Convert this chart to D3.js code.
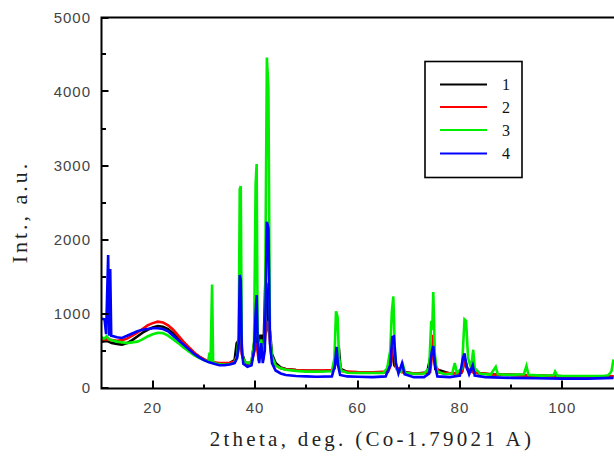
<!DOCTYPE html>
<html><head><meta charset="utf-8">
<script src="https://cdn.jsdelivr.net/npm/d3@7"></script>
<style>html,body{margin:0;padding:0;background:#fff;}svg{display:block;}</style>
</head><body>
<script>
const xTicks = [20, 40, 60, 80, 100];
const xMinorTicks = [30, 50, 70, 90];
const yTicks = [0, 1000, 2000, 3000, 4000, 5000];
const yMinorTicks = [500, 1500, 2500, 3500, 4500];
const seriesNames = ["1", "2", "3", "4"];
const seriesColors = ["#000000", "#ff0000", "#00ee00", "#0000ff"];

const s1 = [[10,620],[11,630],[12,600],[13,590],[14,580],[15,600],[16,640],[17,690],[18,740],[19,780],[20,810],[21,830],[22,820],[23,790],[24,730],[25,660],[26,590],[27,530],[28,470],[29,420],[30,380],[31,350],[32,330],[33,320],[34,320],[35,330],[36,370],[36.4,600],[36.8,640],[37.0,700],[37.2,740],[37.5,450],[38,350],[38.5,320],[39.3,340],[39.9,650],[40.2,700],[40.5,500],[41.0,700],[41.3,700],[41.6,400],[42.0,1430],[42.2,1400],[42.5,900],[42.9,760],[43.3,450],[44,330],[45,270],[46,250],[48,235],[50,225],[53,225],[55,230],[55.5,260],[55.7,350],[56.0,450],[56.4,500],[56.7,250],[58,210],[60,200],[64,200],[65.8,210],[66.3,420],[66.8,480],[67.2,300],[68.3,220],[71,190],[73.6,200],[74.2,400],[74.8,500],[75.2,250],[78,190],[80.3,200],[80.7,300],[81,380],[81.5,250],[83,200],[86,180],[90,170],[95,160],[100,150],[105,145],[110,150]];

const s2 = [[10,650],[11,650],[12,640],[13,630],[14,640],[15,660],[16,700],[17,740],[18,790],[19,840],[20,870],[21,890],[22,880],[23,840],[24,780],[25,700],[26,620],[27,550],[28,480],[29,420],[30,380],[31,350],[32,340],[33,330],[34,330],[35,330],[36,350],[36.6,450],[37.0,600],[37.2,700],[37.4,450],[37.8,360],[38.5,330],[39.3,340],[39.9,500],[40.3,600],[40.6,420],[41.2,520],[41.6,380],[42.0,700],[42.4,900],[42.8,700],[43.2,400],[44,300],[45,260],[46,245],[48,235],[50,230],[53,230],[55,235],[55.5,260],[55.7,350],[56.0,500],[56.3,300],[57,220],[60,210],[63,205],[66,215],[66.5,300],[66.8,500],[67.1,550],[67.5,280],[69,200],[72,190],[74.2,210],[74.5,400],[74.8,710],[75.2,300],[76,200],[80,190],[80.5,220],[80.9,380],[81.4,250],[82.4,210],[82.6,280],[83,200],[86,180],[90,170],[95,160],[100,150],[105,145],[110,150]];

const s3 = [[10,680],[10.5,660],[11,690],[11.5,650],[12,640],[13,620],[14,610],[15,600],[16,610],[17,620],[18,650],[19,690],[20,720],[21,740],[22,735],[23,700],[24,650],[25,600],[26,540],[27,490],[28,440],[29,400],[30,370],[30.8,350],[31.1,470],[31.3,350],[31.6,1390],[31.8,340],[32.5,320],[33.5,310],[34.5,310],[35.5,320],[36,340],[36.5,420],[36.8,700],[37.0,2680],[37.2,2720],[37.4,600],[37.6,400],[38,350],[38.6,330],[39.3,350],[39.8,600],[40.1,2740],[40.3,3020],[40.5,700],[40.8,430],[41.2,650],[41.5,430],[41.9,600],[42.3,4460],[42.6,4050],[42.9,700],[43.3,420],[44,300],[45,260],[46,240],[48,225],[50,215],[52,215],[55,220],[55.5,400],[55.8,1030],[56.1,960],[56.4,400],[56.8,230],[58,200],[60,195],[62,195],[65,195],[65.8,260],[66.4,500],[66.7,1020],[67.0,1230],[67.3,500],[67.6,250],[68.5,210],[68.9,300],[69.3,200],[71,185],[73,190],[74,260],[74.4,900],[74.6,780],[74.8,1290],[75.1,450],[75.5,220],[77,180],[78.5,190],[79,330],[79.4,200],[80.4,260],[80.9,920],[81.2,900],[81.6,400],[82.2,260],[82.6,510],[82.9,260],[84,185],[86,175],[87,280],[87.4,180],[90,170],[92.5,180],[93,290],[93.4,170],[96,160],[98.3,165],[98.6,215],[99,160],[100,155],[103,155],[106,155],[108,155],[109,165],[109.6,220],[110,380]];

const s4 = [[10,930],[10.6,920],[10.9,720],[11.3,1790],[11.5,700],[11.7,1600],[11.9,700],[12.5,690],[13,680],[14,670],[15,700],[16,730],[17,760],[18,780],[19,790],[20,800],[21,800],[22,790],[23,760],[24,700],[25,640],[26,580],[27,520],[28,460],[29,410],[30,370],[31,340],[32,320],[33,300],[34,300],[35,310],[36,330],[36.5,400],[36.8,600],[37.0,1520],[37.2,1450],[37.4,500],[37.7,320],[38.5,280],[39.3,300],[39.8,500],[40.1,1000],[40.3,1250],[40.5,600],[40.8,330],[41.2,600],[41.5,330],[41.9,500],[42.3,2240],[42.6,2150],[42.9,600],[43.3,330],[44,230],[45,190],[46,170],[48,155],[50,150],[52,145],[55,150],[55.6,300],[55.9,550],[56.2,300],[56.6,170],[58,150],[60,145],[63,140],[65.5,150],[66.4,300],[66.8,680],[67.1,690],[67.5,330],[68,190],[68.7,330],[69.2,180],[71,140],[73,140],[74,190],[74.5,480],[74.8,560],[75.2,280],[75.6,150],[78,140],[80,160],[80.6,400],[80.9,460],[81.3,280],[81.8,180],[82.5,300],[82.9,160],[85,140],[90,130],[95,125],[100,120],[105,120],[110,130]];

const allSeries = [s1, s2, s3, s4];

const W = 614, H = 456;
const mLeft = 101.5, mRight = 613.5, mTop = 17.5, mBottom = 387.5;
const svg = d3.select("body").append("svg").attr("width", W).attr("height", H);

const x = d3.scaleLinear().domain([10, 110]).range([mLeft, mRight]);
const y = d3.scaleLinear().domain([0, 5000]).range([mBottom, mTop]);

svg.append("clipPath").attr("id", "clip").append("rect")
  .attr("x", mLeft).attr("y", mTop).attr("width", mRight - mLeft + 2).attr("height", mBottom - mTop);

const line = d3.line().x(d => x(d[0])).y(d => y(d[1]));
const g = svg.append("g").attr("clip-path", "url(#clip)");
allSeries.forEach((s, i) => {
  g.append("path").datum(s).attr("d", line).attr("fill", "none")
    .attr("stroke", seriesColors[i]).attr("stroke-width", 2.6).attr("stroke-linejoin", "miter");
});

// frame
svg.append("path").attr("d", `M${mRight+4},${mTop}H${mLeft}V${mBottom+1}H${mRight+4}`)
  .attr("fill", "none").attr("stroke", "#000").attr("stroke-width", 2);

// ticks drawn as filled rects (inside)
const tk = svg.append("g").attr("fill", "#000");
xTicks.forEach(v => tk.append("rect").attr("x", Math.round(x(v)) - 1).attr("y", mBottom - 7).attr("width", 2).attr("height", 8));
xMinorTicks.forEach(v => tk.append("rect").attr("x", Math.round(x(v)) - 1).attr("y", mBottom - 3).attr("width", 2).attr("height", 4));
yTicks.forEach(v => tk.append("rect").attr("x", mLeft).attr("y", Math.round(y(v)) - 1).attr("width", 7).attr("height", 2));
yMinorTicks.forEach(v => tk.append("rect").attr("x", mLeft).attr("y", Math.round(y(v)) - 1).attr("width", 4.5).attr("height", 2));

const lblFont = "Liberation Sans, Arial, sans-serif";
svg.append("g").selectAll("text").data(xTicks).join("text")
  .attr("x", d => x(d)).attr("y", 413).attr("text-anchor", "middle")
  .attr("font-family", lblFont).attr("font-size", 15).attr("fill", "#444").attr("letter-spacing", "1px")
  .text(d => d3.format("d")(d));
svg.append("g").selectAll("text").data(yTicks).join("text")
  .attr("x", 91).attr("y", d => y(d) + 5.5).attr("text-anchor", "end")
  .attr("font-family", lblFont).attr("font-size", 15).attr("fill", "#444").attr("letter-spacing", "1px")
  .text(d => d3.format("d")(d));

svg.append("text").attr("x", (199 + 545) / 2).attr("y", 446).attr("text-anchor", "middle")
  .attr("font-family", "Liberation Serif, Times New Roman, serif").attr("font-size", 21)
  .attr("letter-spacing", "3.3px").attr("fill", "#222").text("2theta, deg. (Co-1.79021 A)");
svg.append("text").attr("transform", "translate(27,212) rotate(-90)").attr("text-anchor", "middle")
  .attr("font-family", "Liberation Serif, Times New Roman, serif").attr("font-size", 22)
  .attr("letter-spacing", "3px").attr("fill", "#222").text("Int., a.u.");

const lg = svg.append("g");
lg.append("rect").attr("x", 425).attr("y", 61.5).attr("width", 97).attr("height", 116)
  .attr("fill", "#fff").attr("stroke", "#000").attr("stroke-width", 1.6);
const ly = [84.5, 107, 130, 153.5];
seriesNames.forEach((n, i) => {
  lg.append("line").attr("x1", 440).attr("x2", 487).attr("y1", ly[i]).attr("y2", ly[i])
    .attr("stroke", seriesColors[i]).attr("stroke-width", 2);
  lg.append("text").attr("x", 502).attr("y", ly[i] + 5.5).attr("font-family", "Liberation Serif, Times New Roman, serif")
    .attr("font-size", 16).attr("fill", "#111").text(n);
});
</script>
</body></html>
